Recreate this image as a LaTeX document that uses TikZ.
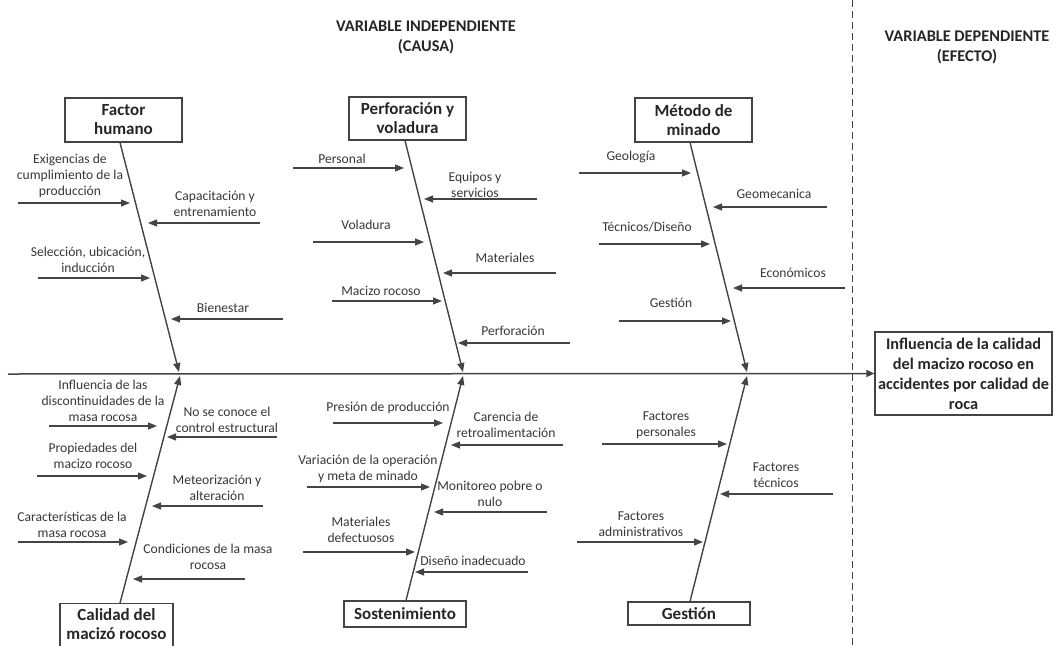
\documentclass[tikz,border=0pt]{standalone}
\usepackage{fontspec}
\setmainfont{Carlito}
\usetikzlibrary{arrows.meta}
\definecolor{ink}{HTML}{383838}
\definecolor{inkdark}{HTML}{262626}
\definecolor{linecol}{HTML}{444444}

\tikzset{
  lbl/.style={font=\fontsize{13.6}{16}\selectfont, text=ink, align=center, inner sep=0pt},
  hdr/.style={font=\fontsize{16.3}{20}\selectfont\bfseries, text=inkdark, align=center, inner sep=0pt},
  catbox/.style={draw=linecol, line width=1.2pt, font=\fontsize{17}{19}\selectfont\bfseries,
                 text=inkdark, align=center, inner sep=0pt},
  effbox/.style={draw=linecol, line width=1.2pt, font=\fontsize{16.3}{20}\selectfont\bfseries,
                 text=inkdark, align=center, inner sep=0pt},
  bone/.style={draw=linecol, line width=1.4pt, -{Triangle[length=9pt,width=7pt]}},
  causearr/.style={draw=linecol, line width=1.2pt, -{Triangle[length=9pt,width=7pt]}},
  spine/.style={draw=linecol, line width=1.5pt, -{Triangle[length=8pt,width=7pt]}},
  divider/.style={draw=linecol, line width=1pt, dash pattern=on 7pt off 4pt},
}

% one cause: name, start x, end x, y, label x, label y, label text
\newcommand\causeitem[7]{%
  \coordinate (#1-s) at (#2,#4);
  \coordinate (#1-e) at (#3,#4);
  \draw[causearr] (#1-s) -- (#1-e);
  \node[lbl] (#1-t) at (#5,#6) {#7};
}

\begin{document}
\begin{tikzpicture}[x=1pt,y=-1pt]
\clip (0,0) rectangle (1056,645);
\fill[white] (0,0) rectangle (1056,645);

% headings
\node[hdr] (hcausa) at (426,37) {VARIABLE INDEPENDIENTE\\(CAUSA)};
\node[hdr] (hefecto) at (967,47) {VARIABLE DEPENDIENTE\\(EFECTO)};

% separator between cause and effect
\draw[divider] (852,0) -- (852,645);

% category boxes
\node[catbox, minimum width=117pt, minimum height=44pt] (fh) at (123.5,120) {Factor\\humano};
\node[catbox, minimum width=117pt, minimum height=43pt] (pv) at (407.5,118.5) {Perforación y\\voladura};
\node[catbox, minimum width=117pt, minimum height=44pt] (mm) at (693.5,120) {Método de\\minado};
\node[catbox, minimum width=113pt, inner ysep=5pt, text depth=20pt, anchor=north] (cm) at (116.5,603) {Calidad del\\macizó rocoso};
\node[catbox, minimum width=122pt, minimum height=26pt] (so) at (405,614) {Sostenimiento};
\node[catbox, minimum width=122pt, minimum height=23pt] (ge) at (689,613.5) {Gestión};

% effect
\node[effbox, minimum width=177pt, minimum height=83pt] (eff) at (963.5,373.5)
  {Influencia de la calidad\\del macizo rocoso en\\accidentes por calidad de\\roca};

% spine
\coordinate (sp0) at (8,374);
\draw[spine] (sp0) -- (eff.west);

% bones
\coordinate (j1) at (179,372);
\coordinate (j2) at (463,372);
\coordinate (j3) at (747,372);
\coordinate (j4) at (180,376);
\coordinate (j5) at (463,376);
\coordinate (j6) at (747,376);
\draw[bone] ([xshift=-3.5pt]fh.south) -- (j1);
\draw[bone] ([xshift=-2.5pt]pv.south) -- (j2);
\draw[bone] ([xshift=-3.5pt]mm.south) -- (j3);
\draw[bone] ([xshift=3.5pt]cm.north) -- (j4);
\draw[bone] ([xshift=1pt]so.north) -- (j5);
\draw[bone] ([xshift=1pt]ge.north) -- (j6);

% Factor humano
\causeitem{fh1}{18}{130}{203}{70}{176}{Exigencias de\\cumplimiento de la\\producción}
\causeitem{fh2}{260}{148}{223}{215}{204}{Capacitación y\\entrenamiento}
\causeitem{fh3}{38}{150}{278}{88}{260}{Selección, ubicación,\\inducción}
\causeitem{fh4}{283}{171}{319}{223}{308}{Bienestar}

% Perforación y voladura
\causeitem{pv1}{293}{404}{168}{342}{159}{Personal}
\causeitem{pv2}{537}{424}{199}{475}{185}{Equipos y\\servicios}
\causeitem{pv3}{313}{424}{242}{366}{225}{Voladura}
\causeitem{pv4}{556}{443}{273}{505}{258}{Materiales}
\causeitem{pv5}{332}{442}{301}{381}{291}{Macizo rocoso}
\causeitem{pv6}{570}{458}{343}{513}{331}{Perforación}

% Método de minado
\causeitem{mm1}{579}{691}{173}{631}{157}{Geología}
\causeitem{mm2}{827}{713}{207}{774}{194}{Geomecanica}
\causeitem{mm3}{599}{710}{244}{647}{227}{Técnicos/Diseño}
\causeitem{mm4}{845}{733}{288}{793}{273}{Económicos}
\causeitem{mm5}{619}{731}{321}{671}{303}{Gestión}

% Calidad del macizo rocoso
\causeitem{cm1}{49}{157}{426}{103}{401}{Influencia de las\\discontinuidades de la\\masa rocosa}
\causeitem{cm2}{277}{167}{437}{227}{420}{No se conoce el\\control estructural}
\causeitem{cm3}{37}{147}{476}{93}{456}{Propiedades del\\macizo rocoso}
\causeitem{cm4}{263}{152}{506}{217}{488}{Meteorización y\\alteración}
\causeitem{cm5}{18}{128}{542}{72}{525}{Características de la\\masa rocosa}
\causeitem{cm6}{245}{133}{579}{208}{557}{Condiciones de la masa\\rocosa}

% Sostenimiento
\causeitem{so1}{333}{443}{423}{388}{408}{Presión de producción}
\causeitem{so2}{563}{451}{445}{506}{425}{Carencia de\\retroalimentación}
\causeitem{so3}{307}{430}{487}{368}{469}{Variación de la operación\\y meta de minado}
\causeitem{so4}{547}{434}{512}{490}{494}{Monitoreo pobre o\\nulo}
\causeitem{so5}{303}{415}{552}{361}{530}{Materiales\\defectuosos}
\causeitem{so6}{528}{415}{572}{473}{561}{Diseño inadecuado}

% Gestión
\causeitem{ge1}{602}{727}{444}{666}{425}{Factores\\personales}
\causeitem{ge2}{833}{720}{494}{776}{475}{Factores\\técnicos}
\causeitem{ge3}{577}{703}{542}{641}{524}{Factores\\administrativos}
\end{tikzpicture}
\end{document}
